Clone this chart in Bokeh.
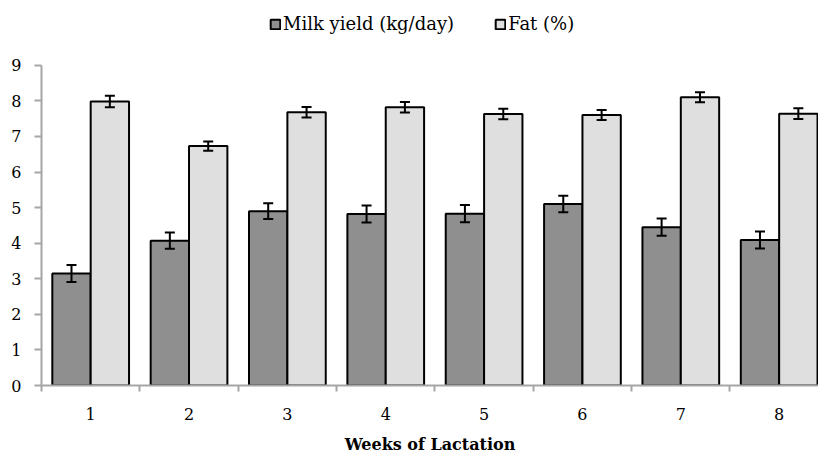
from bokeh.plotting import figure
from bokeh.models import ColumnDataSource, FixedTicker, Whisker, TeeHead, Legend, LegendItem, Range1d
from bokeh.embed import file_html
from bokeh.resources import INLINE

weeks = [1, 2, 3, 4, 5, 6, 7, 8]
week_labels = ["1", "2", "3", "4", "5", "6", "7", "8"]
milk = [3.15, 4.07, 4.90, 4.82, 4.83, 5.10, 4.45, 4.09]
milk_se = [0.24, 0.23, 0.22, 0.24, 0.24, 0.23, 0.24, 0.24]
fat = [7.98, 6.73, 7.68, 7.82, 7.63, 7.60, 8.10, 7.64]
fat_se = [0.16, 0.13, 0.15, 0.15, 0.15, 0.14, 0.14, 0.15]
series_names = ["Milk yield (kg/day)", "Fat (%)"]
y_ticks = [0, 1, 2, 3, 4, 5, 6, 7, 8, 9]

OFF = 0.195
BW = 0.39
FONT = "DejaVu Serif"
AXIS_GRAY = "#a6a6a6"

src = ColumnDataSource(dict(
    x_milk=[w - OFF for w in weeks],
    x_fat=[w + OFF for w in weeks],
    milk=milk,
    fat=fat,
    milk_lo=[m - s for m, s in zip(milk, milk_se)],
    milk_hi=[m + s for m, s in zip(milk, milk_se)],
    fat_lo=[f - s for f, s in zip(fat, fat_se)],
    fat_hi=[f + s for f, s in zip(fat, fat_se)],
))

# frame spans the whole top; the value axis is bounded to 0..9
p = figure(width=818, height=456, x_range=Range1d(0.5, 8.4), y_range=Range1d(0, 10.82),
           output_backend="svg", toolbar_location=None,
           min_border_left=41, min_border_right=0, min_border_top=0, min_border_bottom=70)
p.outline_line_color = None
p.xgrid.grid_line_color = None
p.ygrid.grid_line_color = None
p.background_fill_color = "white"

r_milk = p.vbar(x="x_milk", top="milk", bottom=0, width=BW, source=src,
                fill_color="#8f8f8f", line_color="black", line_width=2)
r_fat = p.vbar(x="x_fat", top="fat", bottom=0, width=BW, source=src,
               fill_color="#dfdfdf", line_color="black", line_width=2)

for base, lo, hi in [("x_milk", "milk_lo", "milk_hi"), ("x_fat", "fat_lo", "fat_hi")]:
    w = Whisker(base=base, lower=lo, upper=hi, source=src, dimension="height",
                line_color="black", line_width=2, level="overlay",
                upper_head=TeeHead(size=10, line_color="black", line_width=2),
                lower_head=TeeHead(size=10, line_color="black", line_width=2))
    p.add_layout(w)

# x axis
xa = p.xaxis[0]
xa.ticker = FixedTicker(ticks=weeks, minor_ticks=[w - 0.5 for w in weeks] + [8.5])
xa.major_label_overrides = {w: l for w, l in zip(weeks, week_labels)}
xa.major_tick_out = 0
xa.major_tick_in = 0
xa.minor_tick_out = 6
xa.minor_tick_in = 0
xa.minor_tick_line_color = AXIS_GRAY
xa.minor_tick_line_width = 2
xa.axis_line_color = AXIS_GRAY
xa.axis_line_width = 2
xa.major_label_standoff = 16
xa.major_label_text_font = FONT
xa.major_label_text_font_size = "16px"
xa.major_label_text_color = "black"
xa.axis_label = "Weeks of Lactation"
xa.axis_label_text_font = FONT
xa.axis_label_text_font_size = "16px"
xa.axis_label_text_font_style = "bold"
xa.axis_label_text_color = "black"
xa.axis_label_standoff = 12

# y axis
ya = p.yaxis[0]
ya.ticker = FixedTicker(ticks=y_ticks)
ya.bounds = (y_ticks[0], y_ticks[-1])
ya.major_tick_out = 7
ya.major_tick_in = 0
ya.minor_tick_out = 0
ya.minor_tick_in = 0
ya.major_tick_line_color = AXIS_GRAY
ya.major_tick_line_width = 2
ya.axis_line_color = AXIS_GRAY
ya.axis_line_width = 2
ya.major_label_standoff = 13
ya.major_label_text_font = FONT
ya.major_label_text_font_size = "16px"
ya.major_label_text_color = "black"

legend = Legend(items=[LegendItem(label=series_names[0], renderers=[r_milk]),
                       LegendItem(label=series_names[1], renderers=[r_fat])],
                location=(228, 351), orientation="horizontal",
                border_line_alpha=0, background_fill_alpha=0,
                padding=0, margin=0, spacing=40,
                glyph_width=12, glyph_height=12, label_standoff=2,
                label_height=20,
                label_text_font=FONT, label_text_font_size="18px",
                label_text_color="black")
p.add_layout(legend, "center")

open("out.html", "w").write(file_html(p, INLINE))
